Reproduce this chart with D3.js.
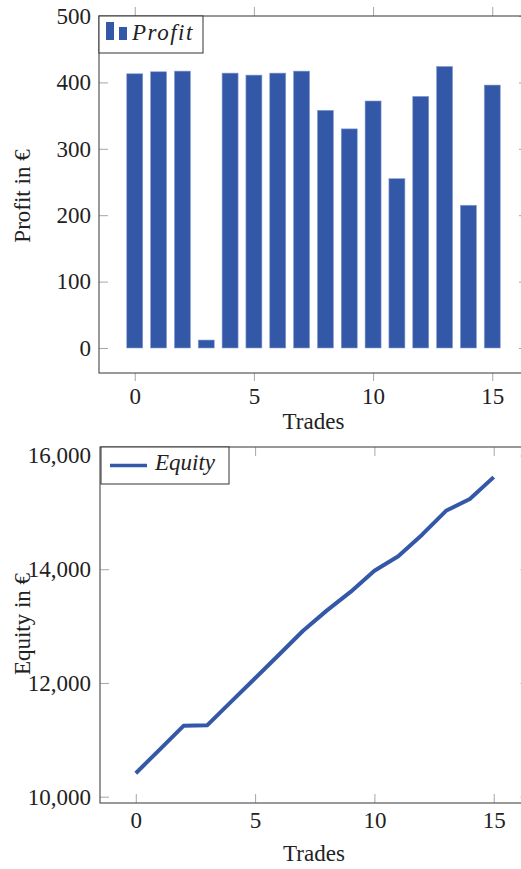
<!DOCTYPE html>
<html>
<head>
<meta charset="utf-8">
<script src="https://cdn.jsdelivr.net/npm/d3@7"></script>
<style>
  body { margin: 0; background: #fff; }
  svg { display: block; font-family: "Liberation Serif", "DejaVu Serif", serif; }
</style>
</head>
<body>
<div id="container"></div>
<script>
const trades = d3.range(16);
const profit = [413, 416, 417, 12, 414, 411, 414, 417, 358, 330, 372, 255, 379, 424, 215, 396];
const equity = [10413, 10829, 11246, 11258, 11672, 12083, 12497, 12914, 13272, 13602, 13974, 14229, 14608, 15028, 15235, 15620];
const xTicks = [0, 5, 10, 15];
const profitTicks = [0, 100, 200, 300, 400, 500];
const equityTicks = [10000, 12000, 14000, 16000];

const w = 521;
const h = 869;
const blue = "#3458a8";
const frame = "#555";
const tickCol = "#a6a6a6";
const fs = 23;

const svg = d3.select("#container").append("svg").attr("width", w).attr("height", h);

function styleAxis(g, showLabels) {
  g.attr("font-family", "Liberation Serif, DejaVu Serif, serif").attr("font-size", fs);
  g.select(".domain").remove();
  g.selectAll(".tick line").attr("stroke", tickCol).attr("stroke-width", 1);
  g.selectAll(".tick text").attr("fill", "#222");
  if (!showLabels) g.selectAll(".tick text").remove();
}

// ---------- top: profit bars ----------
const p = { left: 99, right: 528, top: 16, bottom: 373 };
const x1 = d3.scaleLinear().domain([-1.5, 16.5]).range([p.left, p.right]);
const y1 = d3.scaleLinear().domain([-37.65, 500]).range([p.bottom, p.top]);

const topG = svg.append("g");

topG.append("g").attr("transform", `translate(0,${p.bottom})`)
  .call(d3.axisBottom(x1).tickValues(xTicks).tickSize(8).tickPadding(7))
  .call(g => styleAxis(g, true));
topG.append("g").attr("transform", `translate(0,${p.top})`)
  .call(d3.axisTop(x1).tickValues(xTicks).tickSize(9))
  .call(g => styleAxis(g, false));
topG.append("g").attr("transform", `translate(${p.left},0)`)
  .call(d3.axisLeft(y1).tickValues(profitTicks).tickSize(-9).tickPadding(8))
  .call(g => styleAxis(g, true));
topG.append("g").attr("transform", `translate(${p.right},0)`)
  .call(d3.axisRight(y1).tickValues(profitTicks).tickSize(-9))
  .call(g => styleAxis(g, false));

topG.selectAll("rect.bar")
  .data(profit)
  .enter()
  .append("rect")
  .attr("class", "bar")
  .attr("x", (d, i) => x1(trades[i]) - 8)
  .attr("width", 16)
  .attr("y", d => y1(d))
  .attr("height", d => y1(0) - y1(d))
  .attr("fill", blue)
  .attr("stroke", "#8aa0d2")
  .attr("stroke-width", 0.6);

topG.append("rect")
  .attr("x", p.left).attr("y", p.top)
  .attr("width", p.right - p.left).attr("height", p.bottom - p.top)
  .attr("fill", "none").attr("stroke", frame).attr("stroke-width", 1.2);

// legend
topG.append("rect").attr("x", 99).attr("y", 16).attr("width", 104).attr("height", 37)
  .attr("fill", "#fff").attr("stroke", "#333").attr("stroke-width", 1);
topG.append("rect").attr("x", 106).attr("y", 22).attr("width", 8).attr("height", 18).attr("fill", blue);
topG.append("rect").attr("x", 119).attr("y", 27).attr("width", 8).attr("height", 13).attr("fill", blue);
topG.append("text").attr("x", 132).attr("y", 40).attr("fill", "#222")
  .style("font-size", fs + "px").style("font-style", "italic").style("letter-spacing", "1.5px")
  .text("Profit");

topG.append("text").attr("x", (p.left + p.right) / 2).attr("y", 429)
  .attr("text-anchor", "middle").attr("fill", "#222").style("font-size", fs + "px").text("Trades");
topG.append("text").attr("transform", `translate(30,196) rotate(-90)`)
  .attr("text-anchor", "middle").attr("fill", "#222").style("font-size", fs + "px").text("Profit in €");

// ---------- bottom: equity line ----------
const q = { left: 100, right: 529.5, top: 447, bottom: 803 };
const x2 = d3.scaleLinear().domain([-1.5, 16.5]).range([q.left, q.right]);
const y2 = d3.scaleLinear().domain([9889, 16150]).range([q.bottom, q.top]);

const botG = svg.append("g");

botG.append("g").attr("transform", `translate(0,${q.bottom})`)
  .call(d3.axisBottom(x2).tickValues(xTicks).tickSize(-9).tickPadding(9))
  .call(g => styleAxis(g, true));
botG.append("g").attr("transform", `translate(0,${q.top})`)
  .call(d3.axisTop(x2).tickValues(xTicks).tickSize(-9))
  .call(g => styleAxis(g, false));
botG.append("g").attr("transform", `translate(${q.left},0)`)
  .call(d3.axisLeft(y2).tickValues(equityTicks).tickSize(-9).tickPadding(9).tickFormat(d3.format(",")))
  .call(g => styleAxis(g, true));
botG.append("g").attr("transform", `translate(${q.right},0)`)
  .call(d3.axisRight(y2).tickValues(equityTicks).tickSize(-9))
  .call(g => styleAxis(g, false));

const line = d3.line().x((d, i) => x2(trades[i])).y(d => y2(d));
botG.append("path").datum(equity)
  .attr("d", line).attr("fill", "none").attr("stroke", blue)
  .attr("stroke-width", 4).attr("stroke-linejoin", "round");

botG.append("rect")
  .attr("x", q.left).attr("y", q.top)
  .attr("width", q.right - q.left).attr("height", q.bottom - q.top)
  .attr("fill", "none").attr("stroke", frame).attr("stroke-width", 1.2);

botG.append("rect").attr("x", 101).attr("y", 447).attr("width", 128).attr("height", 37)
  .attr("fill", "#fff").attr("stroke", "#333").attr("stroke-width", 1);
botG.append("line").attr("x1", 110).attr("x2", 147).attr("y1", 465.5).attr("y2", 465.5)
  .attr("stroke", blue).attr("stroke-width", 3.5);
botG.append("text").attr("x", 155).attr("y", 470).attr("fill", "#222")
  .style("font-size", fs + "px").style("font-style", "italic").text("Equity");

botG.append("text").attr("x", (q.left + 528) / 2).attr("y", 861)
  .attr("text-anchor", "middle").attr("fill", "#222").style("font-size", fs + "px").text("Trades");
botG.append("text").attr("transform", `translate(30,624) rotate(-90)`)
  .attr("text-anchor", "middle").attr("fill", "#222").style("font-size", fs + "px").text("Equity in €");
</script>
</body>
</html>
